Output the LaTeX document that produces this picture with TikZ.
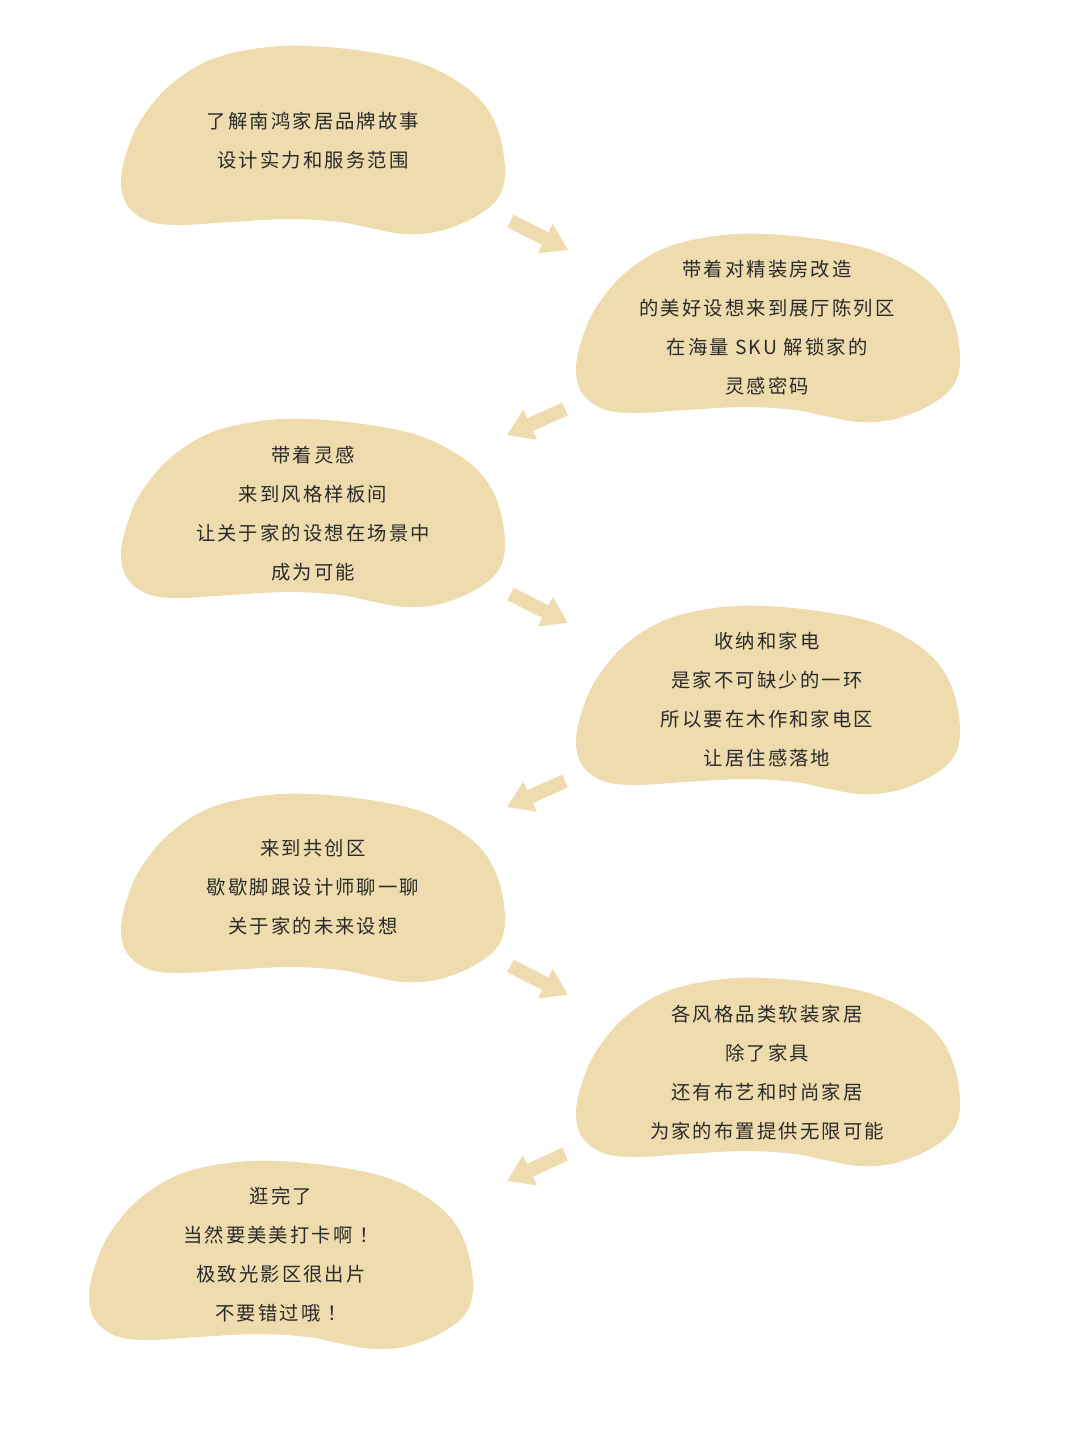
\documentclass[tikz,border=0pt]{standalone}
\usepackage{fontspec}
\newfontfamily\cjk[LetterSpace=11]{Noto Sans CJK SC}
\usetikzlibrary{arrows.meta}
\definecolor{blobfill}{HTML}{EEDCAE}
\definecolor{txt}{HTML}{2A2A2A}
\newcommand\excl{\kern0.35em！}
\tikzset{
  blob/.pic={
    \fill[blobfill] plot[smooth cycle, tension=0.6] coordinates {
      (1,135) (8,103) (22,73) (50,40) (90,15) (140,3) (190,1) (250,7) (300,18)
      (340,38) (366,62) (380,92) (385,128) (378,153) (355,172) (320,186)
      (285,189) (250,183) (220,177) (170,174) (110,177) (60,180) (28,176) (7,160)};
  },
  label/.style={align=center, inner sep=0pt, text=txt,
    font={\cjk\fontsize{14.5pt}{29.25pt}\selectfont}},
  fatarrow/.style={draw=blobfill, line width=10.5pt, line cap=butt,
    -{Triangle[width=23.5pt,length=19pt]}},
}
\begin{document}
\begin{tikzpicture}[x=0.75pt,y=-0.75pt]
\useasboundingbox (0,0) rectangle (1080,1441);
\fill[white] (0,0) rectangle (1080,1441);

\pic at (120,45) {blob};
\pic at (575,233) {blob};
\pic at (120,418) {blob};
\pic at (575,605) {blob};
\pic at (120,793) {blob};
\pic at (575,977) {blob};
\pic at (88,1160) {blob};

\node[label] (n1) at (313,141) {了解南鸿家居品牌故事\\设计实力和服务范围};
\node[label] (n2) at (767,328) {带着对精装房改造\\的美好设想来到展厅陈列区\\在海量 SKU 解锁家的\\灵感密码};
\node[label] (n3) at (313,514) {带着灵感\\来到风格样板间\\让关于家的设想在场景中\\成为可能};
\node[label] (n4) at (767,700) {收纳和家电\\是家不可缺少的一环\\所以要在木作和家电区\\让居住感落地};
\node[label] (n5) at (313,887) {来到共创区\\歇歇脚跟设计师聊一聊\\关于家的未来设想};
\node[label] (n6) at (767,1073) {各风格品类软装家居\\除了家具\\还有布艺和时尚家居\\为家的布置提供无限可能};
\node[label] (n7) at (281,1255) {逛完了\\当然要美美打卡啊\excl\\极致光影区很出片\\不要错过哦\excl};

\coordinate (a1s) at (510.5,221); \coordinate (a1e) at (568,250);
\coordinate (a2s) at (565,409);   \coordinate (a2e) at (507,435);
\coordinate (a3s) at (510.5,594); \coordinate (a3e) at (568,623);
\coordinate (a4s) at (565,781);   \coordinate (a4e) at (507,807);
\coordinate (a5s) at (510.5,966); \coordinate (a5e) at (568,995);
\coordinate (a6s) at (565,1154);  \coordinate (a6e) at (507,1181);
\draw[fatarrow] (a1s) -- (a1e);
\draw[fatarrow] (a2s) -- (a2e);
\draw[fatarrow] (a3s) -- (a3e);
\draw[fatarrow] (a4s) -- (a4e);
\draw[fatarrow] (a5s) -- (a5e);
\draw[fatarrow] (a6s) -- (a6e);
\end{tikzpicture}
\end{document}
